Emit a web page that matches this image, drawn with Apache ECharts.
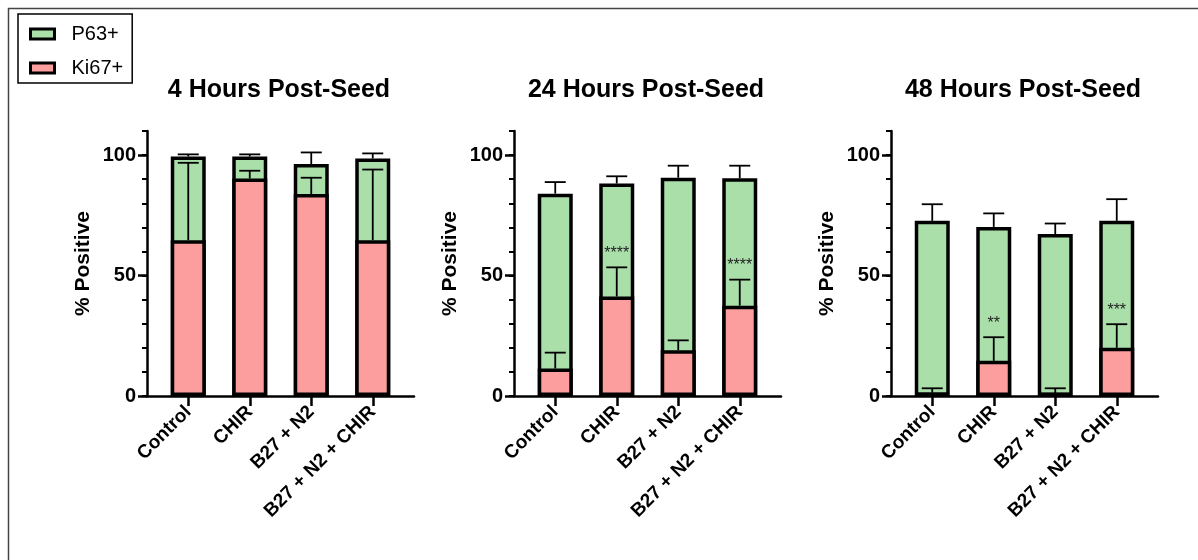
<!DOCTYPE html>
<html>
<head>
<meta charset="utf-8">
<script src="https://cdn.jsdelivr.net/npm/echarts@6/dist/echarts.min.js"></script>
<style>
  html, body { margin: 0; padding: 0; background: #fff; }
  #chart { width: 1198px; height: 560px; }
</style>
</head>
<body>
<div id="chart"></div>
<script>
// Treatment groups shared by all three time points
const CATEGORIES = ['Control', 'CHIR', 'B27 + N2', 'B27 + N2 + CHIR'];
const PANEL_TITLES = ['4 Hours Post-Seed', '24 Hours Post-Seed', '48 Hours Post-Seed'];
const Y_TICKS = [0, 50, 100];
const Y_MAX = 110;
const Y_MINOR_STEP = 10;

// 4 hours
const P63_4H = [99.4, 99.4, 96.3, 98.6];
const P63_4H_SD = [0.9, 0.9, 4.8, 2.1];
const KI67_4H = [64.7, 90.3, 83.8, 64.7];
const KI67_4H_SD = [32.1, 3.2, 6.8, 29.3];
const KI67_4H_SIG = ['', '', '', ''];

// 24 hours
const P63_24H = [84.0, 88.2, 90.6, 90.4];
const P63_24H_SD = [4.8, 3.0, 5.0, 5.2];
const KI67_24H = [11.4, 41.3, 19.0, 37.5];
const KI67_24H_SD = [6.6, 12.1, 4.1, 10.8];
const KI67_24H_SIG = ['', '****', '', '****'];

// 48 hours
const P63_48H = [72.7, 70.2, 67.2, 72.7];
const P63_48H_SD = [6.9, 5.6, 4.4, 9.0];
const KI67_48H = [1.4, 14.6, 1.2, 20.0];
const KI67_48H_SD = [1.8, 9.8, 2.0, 9.8];
const KI67_48H_SIG = ['', '**', '', '***'];

const PANELS = [
  { p63: P63_4H, p63Sd: P63_4H_SD, ki67: KI67_4H, ki67Sd: KI67_4H_SD, sig: KI67_4H_SIG },
  { p63: P63_24H, p63Sd: P63_24H_SD, ki67: KI67_24H, ki67Sd: KI67_24H_SD, sig: KI67_24H_SIG },
  { p63: P63_48H, p63Sd: P63_48H_SD, ki67: KI67_48H, ki67Sd: KI67_48H_SD, sig: KI67_48H_SIG }
];

const FONT = '"Liberation Sans", Arial, Helvetica, sans-serif';
const GREEN = '#aadfaa';
const PINK = '#fd9e9e';

// panel layout (pixels)
const AXIS_LEFT = [147, 514, 891];
const PLOT_TOP = 131;
const PLOT_HEIGHT = 265;
const FRAME_WIDTH = 267;
const BAND_OFFSET = 10.5;
const BAND_WIDTH = 246;
const TITLE_OFFSET = 127;

const grid = [], xAxis = [], yAxis = [], series = [], title = [];

function errorBarSeries(idx, means, sds, sigs) {
  return {
    type: 'custom',
    xAxisIndex: idx, yAxisIndex: idx,
    z: 10,
    silent: true,
    data: means.map((m, i) => [i, m, sds[i]]),
    renderItem: function (params, api) {
      const i = api.value(0);
      const m = api.value(1);
      const sd = api.value(2);
      const base = api.coord([i, m]);
      const top = api.coord([i, m + sd]);
      const capHalf = 10.5;
      const children = [
        { type: 'line', shape: { x1: base[0], y1: base[1], x2: top[0], y2: top[1] },
          style: { stroke: '#000', lineWidth: 1.8 } },
        { type: 'line', shape: { x1: top[0] - capHalf, y1: top[1], x2: top[0] + capHalf, y2: top[1] },
          style: { stroke: '#000', lineWidth: 1.8 } }
      ];
      const s = sigs ? sigs[params.dataIndex] : '';
      if (s) {
        children.push({
          type: 'text',
          style: { text: s, x: top[0], y: top[1] - 14, align: 'center', verticalAlign: 'middle',
                   fontSize: 16, fontFamily: FONT, fill: '#222' }
        });
      }
      return { type: 'group', children: children };
    }
  };
}

PANELS.forEach((p, k) => {
  const left = AXIS_LEFT[k];
  const gFrame = 3 * k, gMinor = 3 * k + 1, gBars = 3 * k + 2;

  // frame grid: axis lines, major ticks, labels
  grid.push({ left: left, top: PLOT_TOP, width: FRAME_WIDTH, height: PLOT_HEIGHT });
  // minor tick grid
  grid.push({ left: left, top: PLOT_TOP, width: FRAME_WIDTH, height: PLOT_HEIGHT });
  // bar grid (category bands)
  grid.push({ left: left + BAND_OFFSET, top: PLOT_TOP, width: BAND_WIDTH, height: PLOT_HEIGHT });

  xAxis.push({
    gridIndex: gFrame, type: 'value', min: 0, max: 1,
    axisLine: { show: true, lineStyle: { color: '#000', width: 2.5 } },
    axisTick: { show: false }, axisLabel: { show: false }, splitLine: { show: false }
  });
  xAxis.push({ gridIndex: gMinor, type: 'value', min: 0, max: 1, show: false });
  xAxis.push({
    gridIndex: gBars, type: 'category', data: CATEGORIES,
    axisLine: { show: false },
    axisTick: { show: true, alignWithLabel: true, length: 10, lineStyle: { color: '#000', width: 2.5 } },
    axisLabel: { rotate: 45, interval: 0, margin: 13, color: '#000', fontSize: 19,
                 fontWeight: 'bold', fontFamily: FONT },
    splitLine: { show: false }
  });

  yAxis.push({
    gridIndex: gFrame, type: 'value', min: 0, max: Y_MAX,
    axisLine: { show: true, lineStyle: { color: '#000', width: 2.5 } },
    axisTick: { show: true, customValues: Y_TICKS, length: 9, lineStyle: { color: '#000', width: 2.5 } },
    axisLabel: { customValues: Y_TICKS, margin: 11, color: '#000', fontSize: 20,
                 fontWeight: 'bold', fontFamily: FONT },
    splitLine: { show: false },
    name: '% Positive', nameLocation: 'middle', nameGap: 53,
    nameTextStyle: { color: '#000', fontSize: 21, fontWeight: 'bold', fontFamily: FONT }
  });
  yAxis.push({
    gridIndex: gMinor, type: 'value', min: 0, max: Y_MAX, interval: Y_MINOR_STEP,
    axisLine: { show: false },
    axisTick: { show: true, length: 5, lineStyle: { color: '#000', width: 2 } },
    axisLabel: { show: false }, splitLine: { show: false }
  });
  yAxis.push({ gridIndex: gBars, type: 'value', min: 0, max: Y_MAX, show: false });

  series.push({
    name: 'P63+', type: 'bar', xAxisIndex: gBars, yAxisIndex: gBars,
    data: p.p63, barWidth: 35, barGap: '-100%', z: 2,
    itemStyle: { color: GREEN, borderColor: '#000', borderWidth: 3.5 }
  });
  series.push({
    name: 'Ki67+', type: 'bar', xAxisIndex: gBars, yAxisIndex: gBars,
    data: p.ki67, barWidth: 35, barGap: '-100%', z: 3,
    itemStyle: { color: PINK, borderColor: '#000', borderWidth: 3.5 }
  });
  series.push(errorBarSeries(gBars, p.p63, p.p63Sd, null));
  series.push(errorBarSeries(gBars, p.ki67, p.ki67Sd, p.sig));

  title.push({
    text: PANEL_TITLES[k],
    left: left + TITLE_OFFSET, top: 73, textAlign: 'center',
    textStyle: { color: '#000', fontSize: 25, fontWeight: 'bold', fontFamily: FONT }
  });
});

const chart = echarts.init(document.getElementById('chart'), null, { renderer: 'canvas' });
chart.setOption({
  animation: false,
  backgroundColor: '#fff',
  title: title,
  legend: {
    data: ['P63+', 'Ki67+'],
    orient: 'vertical', left: 18, top: 14,
    padding: [9, 9, 4, 11], itemGap: 12,
    itemWidth: 24, itemHeight: 10, icon: 'rect',
    borderColor: '#000', borderWidth: 1.5,
    itemStyle: { borderColor: '#000', borderWidth: 3 },
    textStyle: { color: '#000', fontSize: 20, lineHeight: 22, fontFamily: FONT, padding: [0, 0, 0, 12] }
  },
  graphic: [{
    type: 'rect', silent: true,
    shape: { x: 8.5, y: 8.5, width: 1300, height: 700 },
    style: { fill: 'none', stroke: '#444', lineWidth: 1.5 }
  }],
  grid: grid, xAxis: xAxis, yAxis: yAxis, series: series
});
</script>
</body>
</html>
